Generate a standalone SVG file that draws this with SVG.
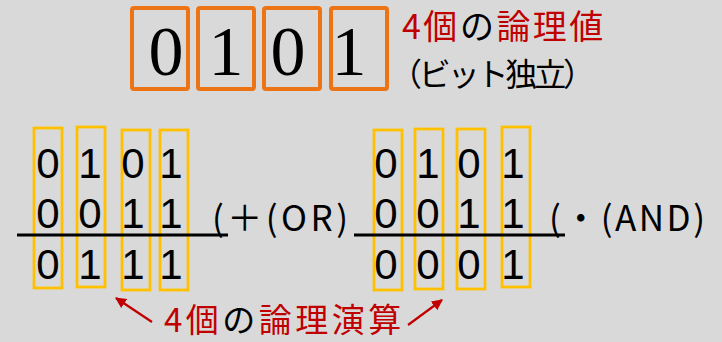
<svg xmlns="http://www.w3.org/2000/svg" width="722" height="342" viewBox="0 0 722 342">
<defs>
<style>
.bg{fill:#d9d9d9}
.obox{fill:none;stroke:#ec7414;stroke-width:4}
.ybox{fill:none;stroke:#ffc000;stroke-width:2.8}
.big{font-family:"Liberation Serif","Times New Roman",serif;font-size:70px;fill:#000;text-anchor:middle}
.dg{font-family:"Liberation Sans",Arial,sans-serif;font-size:42px;fill:#000;text-anchor:middle}
.jp{font-family:"Noto Sans CJK JP",sans-serif;font-size:34px;fill:#000}
.jp2{font-family:"Noto Sans CJK JP",sans-serif;font-size:32px;fill:#000}
.cap{font-family:"Noto Sans CJK JP",sans-serif;font-size:33px;fill:#000}
.op{font-family:"Noto Sans CJK JP",sans-serif;font-size:35px;fill:#000}
.red{fill:#c00000}
.rule{stroke:#000;stroke-width:3}
.arr{stroke:#c00000;stroke-width:2.2;fill:none}
</style>
<marker id="ah" viewBox="0 0 10 10" refX="9" refY="5" markerWidth="5" markerHeight="5" orient="auto" markerUnits="strokeWidth">
<path d="M0,0 L10,5 L0,10 Z" fill="#c00000"/>
</marker>
</defs>
<rect class="bg" x="0" y="0" width="722" height="342"/>

<g id="bits">
<rect class="obox" x="132" y="8" width="56" height="81" rx="2"/>
<rect class="obox" x="198" y="8" width="56" height="81" rx="2"/>
<rect class="obox" x="264" y="8" width="56" height="81" rx="2"/>
<rect class="obox" x="331" y="8" width="56" height="81" rx="2"/>
<text class="big" x="166" y="75">0</text>
<text class="big" x="226" y="75">1</text>
<text class="big" x="288" y="75">0</text>
<text class="big" x="349" y="75">1</text>
</g>

<g id="title">
<text class="jp" x="402" y="39" letter-spacing="2.5"><tspan class="red">4個</tspan><tspan>の</tspan><tspan class="red">論理値</tspan></text>
<text class="jp2" x="390" y="86" textLength="205" lengthAdjust="spacing">（ビット独立）</text>
</g>

<g id="or-op">
<rect class="ybox" x="34" y="128" width="28" height="160"/>
<rect class="ybox" x="77" y="127" width="28" height="160"/>
<rect class="ybox" x="122" y="130" width="28" height="160"/>
<rect class="ybox" x="160" y="130" width="28" height="160"/>
<text class="dg" x="48" y="178">0</text>
<text class="dg" x="90" y="178">1</text>
<text class="dg" x="133" y="178">0</text>
<text class="dg" x="171" y="178">1</text>
<text class="dg" x="48" y="228">0</text>
<text class="dg" x="90" y="228">0</text>
<text class="dg" x="133" y="228">1</text>
<text class="dg" x="171" y="228">1</text>
<text class="dg" x="48" y="279">0</text>
<text class="dg" x="90" y="279">1</text>
<text class="dg" x="133" y="279">1</text>
<text class="dg" x="171" y="279">1</text>
<line class="rule" x1="17" y1="235" x2="228" y2="235"/>
<text class="op" x="212" y="231" textLength="136" lengthAdjust="spacing">(＋(OR)</text>
</g>

<g id="and-op">
<rect class="ybox" x="374" y="130" width="28" height="160"/>
<rect class="ybox" x="415" y="129" width="28" height="160"/>
<rect class="ybox" x="457" y="129" width="28" height="160"/>
<rect class="ybox" x="502" y="127" width="28" height="160"/>
<text class="dg" x="386" y="178">0</text>
<text class="dg" x="428" y="178">1</text>
<text class="dg" x="469" y="178">0</text>
<text class="dg" x="513" y="178">1</text>
<text class="dg" x="386" y="228">0</text>
<text class="dg" x="428" y="228">0</text>
<text class="dg" x="469" y="228">1</text>
<text class="dg" x="513" y="228">1</text>
<text class="dg" x="386" y="279">0</text>
<text class="dg" x="428" y="279">0</text>
<text class="dg" x="469" y="279">0</text>
<text class="dg" x="513" y="279">1</text>
<line class="rule" x1="354" y1="235" x2="565" y2="235"/>
<text class="op" x="549" y="231" textLength="156" lengthAdjust="spacing">(・(AND)</text>
</g>

<g id="caption">
<text class="cap" x="164" y="332" letter-spacing="3.5"><tspan class="red">4個</tspan><tspan>の</tspan><tspan class="red">論理演算</tspan></text>
</g>

<g id="connectors">
<line class="arr" x1="152" y1="322" x2="116" y2="298" marker-end="url(#ah)"/>
<line class="arr" x1="408" y1="325" x2="442" y2="300" marker-end="url(#ah)"/>
</g>
</svg>
